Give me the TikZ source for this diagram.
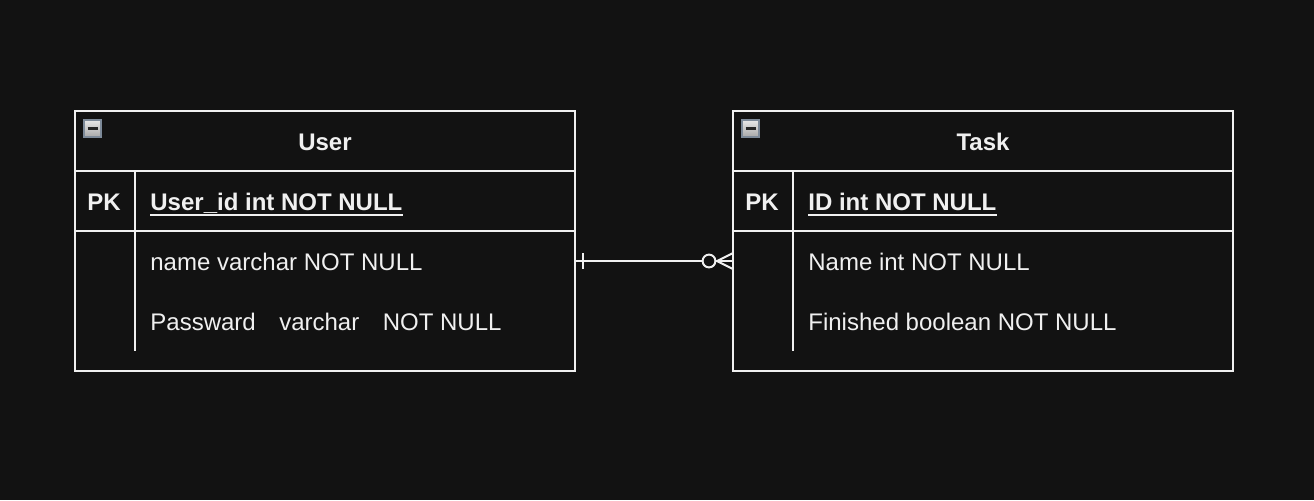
\documentclass[tikz,border=0pt]{standalone}
\usepackage{fontspec}
\setmainfont{Liberation Sans}
\usetikzlibrary{calc}
\definecolor{bgc}{HTML}{121212}
\definecolor{fgc}{HTML}{F0F0F0}
\definecolor{iconborder}{HTML}{7D8A99}
\definecolor{icontop}{HTML}{E8E8E8}
\definecolor{iconbot}{HTML}{A8A8A8}
\tikzset{
  tbl/.style={draw=fgc, line width=1pt, outer sep=0pt, inner sep=0pt, minimum width=250pt, minimum height=130pt},
  sep/.style={draw=fgc, line width=1pt},
  txt/.style={text=fgc, inner sep=0pt, font=\fontsize{12}{14}\selectfont},
  btxt/.style={txt, font=\fontsize{12}{14}\selectfont\bfseries},
  conn/.style={draw=fgc, line width=1pt},
  icon/.style={draw=iconborder, line width=0.8pt, top color=icontop, bottom color=iconbot, minimum width=8.5pt, minimum height=8.5pt, inner sep=0pt},
}
\newcommand{\gapsp}{\hspace{11.75pt}}
\begin{document}
\begin{tikzpicture}[x=0.5pt, y=-0.5pt]
\fill[bgc] (0,0) rectangle (1314,500);
\useasboundingbox (0,0) rectangle (1314,500);

% ---------- User table ----------
\node[tbl, anchor=north west] (user) at (75,111) {};
\draw[sep] (75,171) -- (575,171);
\draw[sep] (75,231) -- (575,231);
\draw[sep] (135,171) -- (135,351);
\node[icon] (usericon) at (92.5,128.5) {};
\draw[black!85, line width=1.2pt] ($(usericon.center)+(-5,0)$) -- ($(usericon.center)+(5,0)$);
\node[btxt, anchor=base] (usertitle) at (325,150) {User};
\node[btxt, anchor=base] (userpk) at (104,210) {PK};
\node[btxt, anchor=base west] (userid) at (150,210) {User\_id int NOT NULL};
\draw[fgc, line width=1pt] ($(userid.base west)+(0,5)$) -- ($(userid.base east)+(0,5)$);
\node[txt, anchor=base west] (username) at (150,270) {name varchar NOT NULL};
\node[txt, anchor=base west] (userpw) at (150,330) {Passward\gapsp varchar\gapsp NOT NULL};

% ---------- Task table ----------
\node[tbl, anchor=north west] (task) at (733,111) {};
\draw[sep] (733,171) -- (1233,171);
\draw[sep] (733,231) -- (1233,231);
\draw[sep] (793,171) -- (793,351);
\node[icon] (taskicon) at (750.5,128.5) {};
\draw[black!85, line width=1.2pt] ($(taskicon.center)+(-5,0)$) -- ($(taskicon.center)+(5,0)$);
\node[btxt, anchor=base] (tasktitle) at (983,150) {Task};
\node[btxt, anchor=base] (taskpk) at (762,210) {PK};
\node[btxt, anchor=base west] (taskid) at (808,210) {ID int NOT NULL};
\draw[fgc, line width=1pt] ($(taskid.base west)+(0,5)$) -- ($(taskid.base east)+(0,5)$);
\node[txt, anchor=base west] (taskname) at (808,270) {Name int NOT NULL};
\node[txt, anchor=base west] (taskfin) at (808,330) {Finished boolean NOT NULL};

% ---------- Connector ----------
\coordinate (a) at (575,261);
\coordinate (b) at (733,261);
\coordinate (circ) at (709,261);
\coordinate (foot) at (717,261);
\draw[conn] (a) -- ($(circ)+(-6,0)$);
\draw[conn] (583,253) -- (583,269);
\draw[conn] (circ) circle (3.2pt);
\draw[conn] ($(circ)+(6.4,0)$) -- (b);
\draw[conn] (b |- 0,253) -- (foot) -- (b |- 0,269);
\end{tikzpicture}
\end{document}
